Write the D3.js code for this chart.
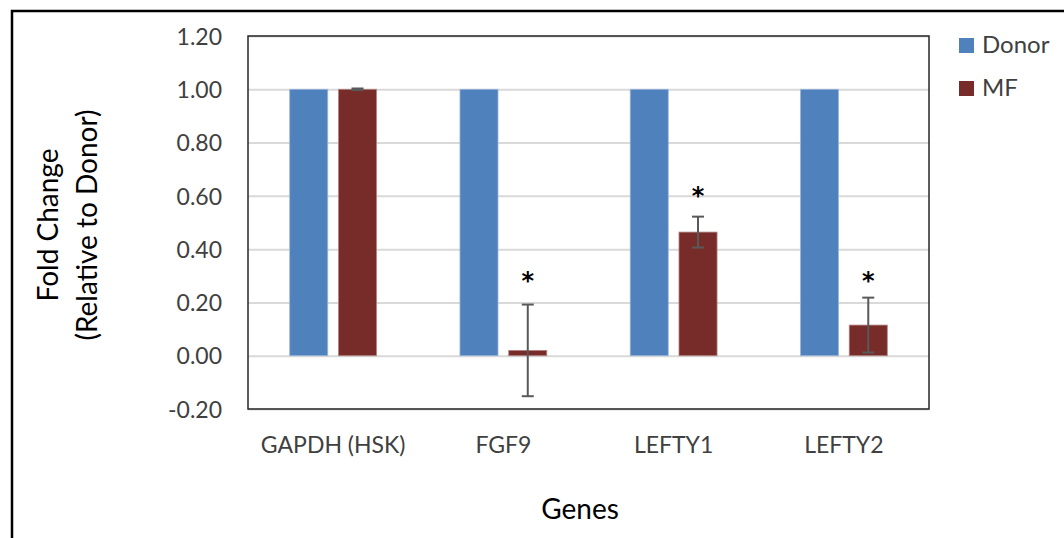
<!DOCTYPE html>
<html>
<head>
<meta charset="utf-8">
<script src="https://cdn.jsdelivr.net/npm/d3@7"></script>
<style>
  body { margin: 0; background: #fff; }
  svg { display: block; font-family: Lato, "Open Sans", sans-serif; }
</style>
</head>
<body>
<script>
// chart data
var genes = ["GAPDH (HSK)", "FGF9", "LEFTY1", "LEFTY2"];
var seriesNames = ["Donor", "MF"];
var donorValues = [1.00, 1.00, 1.00, 1.00];
var mfValues = [1.00, 0.02, 0.464, 0.115];
var mfErrors = [0.003, 0.172, 0.058, 0.103];
var starAt = [null, 0.30, 0.62, 0.30];
var yTicks = [-0.2, 0, 0.2, 0.4, 0.6, 0.8, 1.0, 1.2];
var colors = ["#4F81BD", "#772C2A"];

var width = 1064, height = 538;
var plot = {left: 248, top: 36, right: 929, bottom: 409};

var svg = d3.select("body").append("svg")
  .attr("width", width)
  .attr("height", height);

// outer frame, runs off right and bottom edges
svg.append("rect")
  .attr("x", 12).attr("y", 11)
  .attr("width", width + 10).attr("height", height + 10)
  .attr("fill", "none")
  .attr("stroke", "#000")
  .attr("stroke-width", 2.5);

var y = d3.scaleLinear().domain([-0.2, 1.2]).range([plot.bottom, plot.top]);

var x0 = d3.scaleBand()
  .domain(genes)
  .range([plot.left, plot.right])
  .paddingInner(0.49)
  .paddingOuter(0.245);

var x1 = d3.scaleBand()
  .domain(seriesNames)
  .range([0, x0.bandwidth()])
  .paddingInner(0.22)
  .paddingOuter(0);

// gridlines
svg.append("g")
  .attr("transform", "translate(" + plot.left + ",0)")
  .call(d3.axisLeft(y).tickValues(yTicks).tickSize(-(plot.right - plot.left)).tickFormat(""))
  .call(function(g) {
    g.select(".domain").remove();
    g.selectAll("line").attr("stroke", "#D9D9D9").attr("stroke-width", 2);
  });

// y tick labels (plain hyphen for negatives, like the original)
var fmt = d3.format(".2f");
svg.append("g")
  .attr("transform", "translate(222,0)")
  .call(d3.axisLeft(y).tickValues(yTicks).tickSize(0).tickPadding(0)
    .tickFormat(function(d) { return fmt(d).replace("\u2212", "-"); }))
  .call(function(g) {
    g.select(".domain").remove();
    g.selectAll("text")
      .attr("fill", "#404040")
      .attr("dy", "0.36em")
      .style("font-size", "23px")
      .style("font-family", "Lato, sans-serif");
  });

// bars
var rows = genes.map(function(g, i) {
  return {gene: g, vals: [donorValues[i], mfValues[i]], err: mfErrors[i], star: starAt[i]};
});

var groups = svg.append("g").selectAll("g")
  .data(rows)
  .enter().append("g")
  .attr("transform", function(d) { return "translate(" + x0(d.gene) + ",0)"; });

groups.selectAll("rect")
  .data(function(d) { return d.vals.map(function(v, j) { return {name: seriesNames[j], value: v, idx: j}; }); })
  .enter().append("rect")
  .attr("x", function(d) { return x1(d.name); })
  .attr("width", x1.bandwidth())
  .attr("y", function(d) { return y(Math.max(0, d.value)); })
  .attr("height", function(d) { return Math.abs(y(d.value) - y(0)); })
  .attr("fill", function(d) { return colors[d.idx]; })
  .attr("stroke", function(d) { return d.idx === 0 ? "#9DB6D9" : "#B08582"; })
  .attr("stroke-width", 0.8);

// error bars on MF
var errColor = "#595959";
groups.each(function(d) {
  var g = d3.select(this);
  var cx = x1("MF") + x1.bandwidth() / 2;
  var lo = d.vals[1] - d.err, hi = d.vals[1] + d.err;
  g.append("line")
    .attr("x1", cx).attr("x2", cx)
    .attr("y1", y(hi)).attr("y2", y(lo))
    .attr("stroke", errColor).attr("stroke-width", 2);
  [hi, lo].forEach(function(v) {
    g.append("line")
      .attr("x1", cx - 6).attr("x2", cx + 6)
      .attr("y1", y(v)).attr("y2", y(v))
      .attr("stroke", errColor).attr("stroke-width", 2);
  });
  if (d.star != null) {
    g.append("text")
      .attr("x", cx)
      .attr("y", y(d.star) + 13)
      .attr("text-anchor", "middle")
      .style("font-family", "'DejaVu Sans', sans-serif")
      .style("font-size", "24px")
      .style("font-weight", "bold")
      .attr("fill", "#000")
      .text("*");
  }
});

// plot border
svg.append("rect")
  .attr("x", plot.left).attr("y", plot.top)
  .attr("width", plot.right - plot.left)
  .attr("height", plot.bottom - plot.top)
  .attr("fill", "none")
  .attr("stroke", "#262626")
  .attr("stroke-width", 1.5);

// category labels
svg.append("g")
  .attr("transform", "translate(0,453)")
  .call(d3.axisBottom(x0).tickSize(0).tickPadding(0))
  .call(function(g) {
    g.select(".domain").remove();
    g.selectAll("text")
      .attr("fill", "#404040")
      .attr("y", 0)
      .attr("dy", 0)
      .style("font-size", "23px")
      .style("font-family", "Lato, sans-serif");
  });

// axis titles
svg.append("text")
  .attr("x", 580).attr("y", 519)
  .attr("text-anchor", "middle")
  .style("font-size", "28px")
  .attr("fill", "#000")
  .text("Genes");

var yTitle = svg.append("text")
  .attr("transform", "translate(58,225) rotate(-90)")
  .attr("text-anchor", "middle")
  .style("font-size", "28px")
  .attr("fill", "#000");
yTitle.append("tspan").attr("x", 0).attr("dy", 0).text("Fold Change");
yTitle.append("tspan").attr("x", 0).attr("dy", 39).text("(Relative to Donor)");

// legend
var legend = svg.append("g").selectAll("g")
  .data(seriesNames)
  .enter().append("g")
  .attr("transform", function(d, i) { return "translate(959," + (38 + i * 43) + ")"; });

legend.append("rect")
  .attr("width", 15).attr("height", 15)
  .attr("fill", function(d, i) { return colors[i]; });

legend.append("text")
  .attr("x", 23).attr("y", 15)
  .style("font-size", "24px")
  .attr("fill", "#404040")
  .text(function(d) { return d; });
</script>
</body>
</html>
